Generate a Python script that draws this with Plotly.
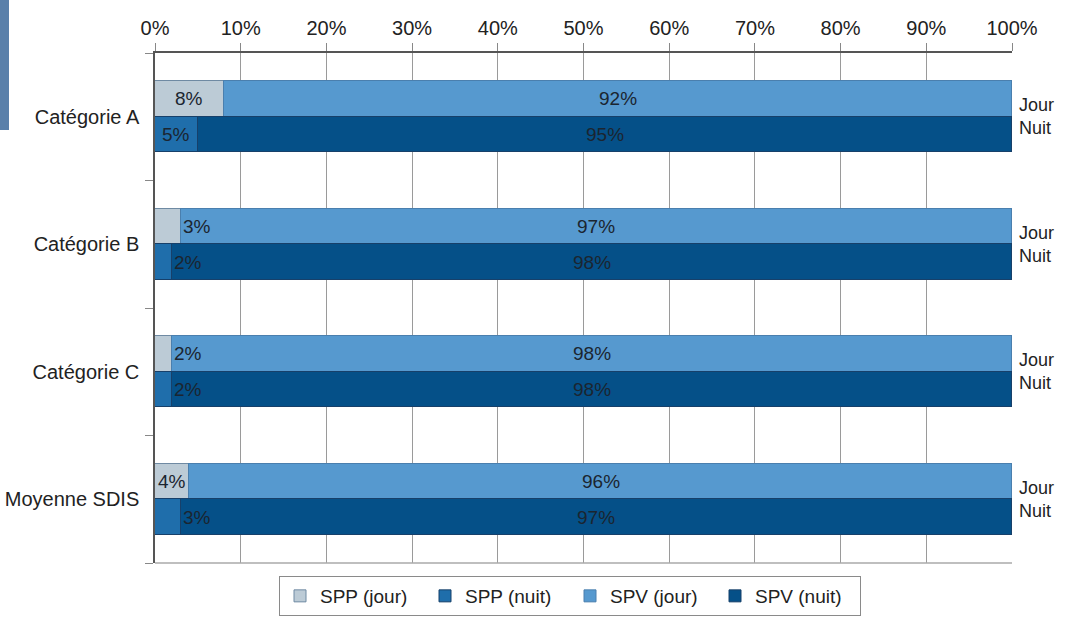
import plotly.graph_objects as go

# Data
categories = ["Catégorie A", "Catégorie B", "Catégorie C", "Moyenne SDIS"]
spp_jour = [8, 3, 2, 4]
spp_nuit = [5, 2, 2, 3]
spv_jour = [92, 97, 98, 96]
spv_nuit = [95, 98, 98, 97]
x_ticks = list(range(0, 101, 10))

# Layout constants (pixels)
W, H = 1066, 618
L, R, T, B = 155, 54, 53, 55
PW, PH = W - L - R, H - T - B

BAR_W = 0.28
pos = list(range(len(categories)))
pos_jour = [p - BAR_W / 2 for p in pos]
pos_nuit = [p + BAR_W / 2 for p in pos]

C_SPP_J = "#bccbd6"
C_SPP_N = "#1f6eab"
C_SPV_J = "#5699cf"
C_SPV_N = "#055088"
FONT = "Liberation Sans, Arial, sans-serif"
TXT = "#222222"
FS = 20

fig = go.Figure()


def add_bar(name, vals, ypos, color, line_color):
    fig.add_trace(go.Bar(
        name=name, x=vals, y=ypos, orientation="h", width=BAR_W,
        marker=dict(color=color, line=dict(color=line_color, width=1)),
        hoverinfo="x+name",
    ))


add_bar("SPP (jour)", spp_jour, pos_jour, C_SPP_J, "#6f8aa3")
add_bar("SPP (nuit)", spp_nuit, pos_nuit, C_SPP_N, "#17406a")
add_bar("SPV (jour)", spv_jour, pos_jour, C_SPV_J, "#4a7fae")
add_bar("SPV (nuit)", spv_nuit, pos_nuit, C_SPV_N, "#17406a")

annotations = []


def seg_labels(spp, spv, ypos):
    for s, v, y in zip(spp, spv, ypos):
        if s >= 4:
            annotations.append(dict(x=s / 2, y=y, text=f"{s}%", showarrow=False,
                                    xanchor="center", yanchor="middle"))
        else:
            annotations.append(dict(x=s, y=y, text=f"{s}%", showarrow=False,
                                    xanchor="left", yanchor="middle", xshift=0))
        annotations.append(dict(x=s + v / 2, y=y, text=f"{v}%", showarrow=False,
                                xanchor="center", yanchor="middle"))


seg_labels(spp_jour, spv_jour, pos_jour)
seg_labels(spp_nuit, spv_nuit, pos_nuit)

for a in annotations:
    a["font"] = dict(family=FONT, size=FS - 1, color="#1b2530")
    a["xref"] = "x"
    a["yref"] = "y"

# Jour / Nuit markers on the right
for p in pos:
    annotations.append(dict(
        x=1, xref="x domain", xshift=5, y=p, yref="y",
        text="Jour<br>Nuit", showarrow=False, xanchor="left", yanchor="middle",
        align="left", font=dict(family=FONT, size=18, color=TXT),
    ))

shapes = [
    # bottom frame line
    dict(type="line", xref="x domain", yref="y domain", x0=0, x1=1, y0=0, y1=0,
         line=dict(color="#aaaaaa", width=1.5)),
    # left header block
    dict(type="rect", xref="paper", yref="paper",
         x0=-L / PW, x1=(9 - L) / PW,
         y0=(H - B - 130) / PH, y1=(H - B) / PH,
         fillcolor="#5a80aa", line=dict(width=0)),
]

fig.update_layout(
    width=W, height=H,
    margin=dict(l=L, r=R, t=T, b=B, autoexpand=False),
    barmode="stack",
    bargap=0,
    plot_bgcolor="white",
    paper_bgcolor="white",
    font=dict(family=FONT, size=FS, color=TXT),
    annotations=annotations,
    shapes=shapes,
    legend=dict(
        orientation="h", x=(570 - L) / PW, xanchor="center",
        y=(H - B - 596) / PH, yanchor="middle",
        bordercolor="#8a8a8a", borderwidth=1,
        font=dict(family=FONT, size=FS - 1, color=TXT),
        traceorder="normal", itemwidth=30, tracegroupgap=0,
        entrywidth=100, entrywidthmode="pixels",
    ),
    xaxis=dict(
        side="top", range=[0, 100], tickmode="array", tickvals=x_ticks,
        ticktext=[f"{t}%" for t in x_ticks],
        showgrid=True, gridcolor="#9a9a9a", gridwidth=1,
        showline=True, linecolor="#555555", linewidth=1.5,
        ticks="outside", ticklen=8, tickcolor="#888888",
        tickfont=dict(family=FONT, size=FS, color=TXT),
        zeroline=False, fixedrange=True, automargin=False,
    ),
    yaxis=dict(
        range=[3.5, -0.5], tickmode="array", tickvals=pos, ticktext=categories,
        ticks="", showgrid=False, zeroline=False,
        showline=True, linecolor="#555555", linewidth=1.5,
        ticklabelstandoff=10,
        tickfont=dict(family=FONT, size=FS, color=TXT),
        minor=dict(tickmode="array", tickvals=[-0.5, 0.5, 1.5, 2.5, 3.5],
                   ticks="outside", ticklen=8, tickcolor="#888888", showgrid=False),
        fixedrange=True, automargin=False,
    ),
)

fig.write_html("out.html")
